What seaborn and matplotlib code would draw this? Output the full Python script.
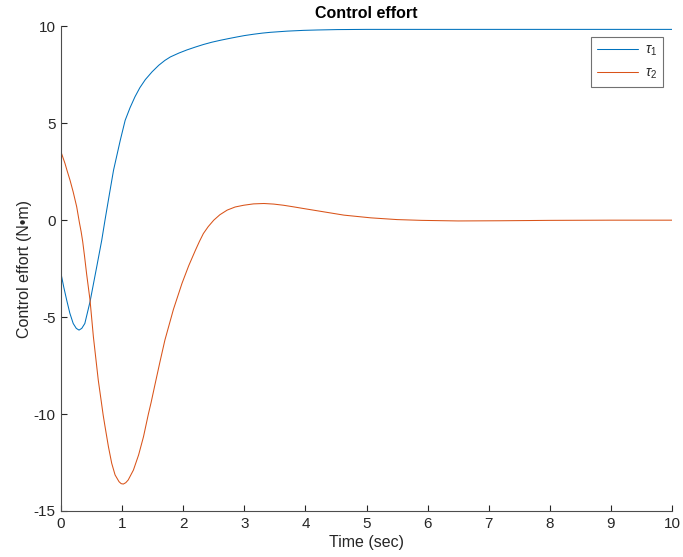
import numpy as np
import pandas as pd
import matplotlib
matplotlib.use("Agg")
import matplotlib.pyplot as plt
from matplotlib.lines import Line2D
import seaborn as sns

# ---- data ----
t_tau1 = [0.0, 0.045, 0.093, 0.145, 0.20, 0.25, 0.295, 0.34, 0.39, 0.475, 0.585,
          0.667, 0.72, 0.79, 0.86, 0.97, 1.05, 1.13, 1.21, 1.29, 1.38, 1.49,
          1.60, 1.70, 1.79, 1.93, 2.06, 2.20, 2.33, 2.47, 2.61, 2.75, 2.88,
          3.0, 3.15, 3.3, 3.43, 3.7, 3.97, 4.2, 4.52, 5.0, 5.5, 7.0, 8.5, 10.0]
tau1 = [-2.75, -3.45, -4.12, -4.8, -5.33, -5.58, -5.67, -5.58, -5.33, -4.21, -2.40,
        -1.03, 0.0, 1.3, 2.58, 4.12, 5.15, 5.8, 6.36, 6.83, 7.25, 7.65,
        7.99, 8.24, 8.42, 8.62, 8.78, 8.93, 9.06, 9.18, 9.28, 9.37, 9.45,
        9.52, 9.59, 9.65, 9.69, 9.75, 9.79, 9.81, 9.83, 9.84, 9.84, 9.84, 9.84, 9.84]

t_tau2 = [0.0, 0.03, 0.066, 0.10, 0.148, 0.20, 0.257, 0.30, 0.33, 0.355, 0.385,
          0.42, 0.475,
          0.53, 0.61, 0.656, 0.69, 0.721, 0.776, 0.83, 0.885, 0.95, 0.985, 1.02,
          1.06, 1.10, 1.185, 1.27, 1.35, 1.43, 1.475, 1.54, 1.62, 1.70,
          1.84, 1.98, 2.09, 2.20, 2.265, 2.33, 2.41, 2.50, 2.60, 2.72, 2.85,
          2.99, 3.15, 3.32, 3.48, 3.64, 3.80, 3.97, 4.30, 4.63, 5.07, 5.50, 5.9,
          6.5, 7.2, 8.0, 9.0, 10.0]
tau2 = [3.52, 3.25, 2.92, 2.55, 2.06, 1.45, 0.69, -0.1, -0.6, -1.1, -1.85,
        -2.79, -4.12,
        -6.01, -8.25, -9.28, -10.05, -10.65, -11.68, -12.54, -13.14, -13.49, -13.59, -13.61,
        -13.54, -13.40, -12.89, -12.11, -11.17, -10.0, -9.4, -8.45, -7.3, -6.19,
        -4.6, -3.26, -2.35, -1.55, -1.1, -0.69, -0.33, 0.0, 0.28, 0.52, 0.68,
        0.77, 0.84, 0.86, 0.83, 0.77, 0.69, 0.60, 0.43, 0.26, 0.12, 0.03, -0.01,
        -0.04, -0.03, -0.01, 0.0, 0.0]

series_labels = [r"$\tau_1$", r"$\tau_2$"]
series_colors = ["#0072BD", "#D95319"]
x_ticks = list(range(0, 11))
y_ticks = [-15, -10, -5, 0, 5, 10]

df = pd.concat([
    pd.DataFrame({"t": t_tau1, "u": tau1, "s": series_labels[0]}),
    pd.DataFrame({"t": t_tau2, "u": tau2, "s": series_labels[1]}),
], ignore_index=True)

sns.set_style("ticks")
plt.rcParams["font.family"] = ["Liberation Sans", "DejaVu Sans"]
plt.rcParams["axes.unicode_minus"] = False
plt.rcParams["mathtext.fontset"] = "custom"
plt.rcParams["mathtext.it"] = "Liberation Sans:italic"
plt.rcParams["mathtext.rm"] = "Liberation Sans"

fig = plt.figure(figsize=(6.83, 5.57), dpi=100)
ax = fig.add_axes([0.0893, 0.0826, 0.8947, 0.8702])

sns.lineplot(data=df, x="t", y="u", hue="s", sort=False, estimator=None,
             palette=series_colors, linewidth=0.75, ax=ax, legend=False)

ax.set_xlim(0, 10)
ax.set_ylim(-15, 10)
ax.set_xticks(x_ticks)
ax.set_yticks(y_ticks)
ax.tick_params(direction="in", length=4.5, width=0.8, colors="#262626",
               labelsize=11, pad=4)
for side in ["top", "right"]:
    ax.spines[side].set_visible(False)
for side in ["left", "bottom"]:
    ax.spines[side].set_color("#4d4d4d")
    ax.spines[side].set_linewidth(0.8)

ax.set_xlabel("Time (sec)", fontsize=11.5, color="#262626", labelpad=3)
ax.set_ylabel("Control effort (N\u2022m)", fontsize=11.5, color="#262626", labelpad=1)
ax.set_title("Control effort", fontsize=11.5, fontweight="bold", color="black", pad=6)

handles = [Line2D([], [], color=c, linewidth=0.75) for c in series_colors]
leg = ax.legend(handles, series_labels, loc="upper right",
                bbox_to_anchor=(0.985, 0.978), borderaxespad=0,
                fontsize=10, frameon=True, fancybox=False, edgecolor="#4d4d4d",
                handlelength=3.0, handletextpad=0.5, borderpad=0.4,
                labelspacing=0.55)
leg.get_frame().set_linewidth(0.8)

fig.savefig("out.png", dpi=100)
